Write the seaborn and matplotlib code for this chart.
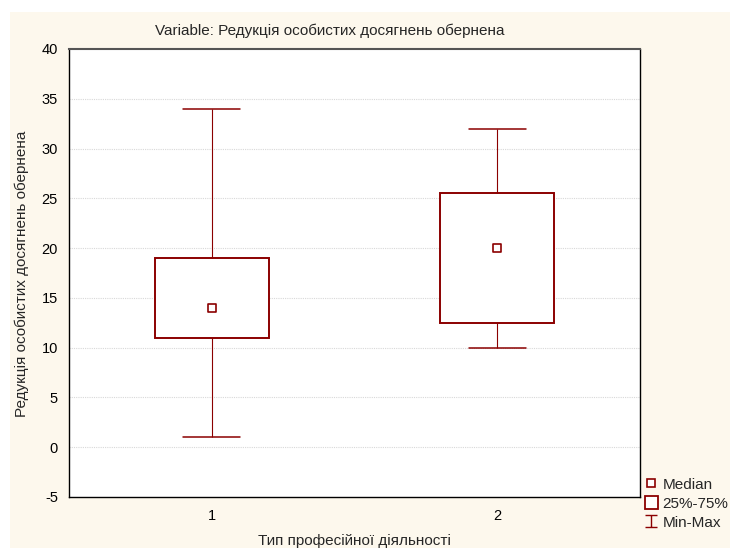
import numpy as np
import pandas as pd
import matplotlib
matplotlib.use("Agg")
import matplotlib.pyplot as plt
from matplotlib.patches import Rectangle, Patch
from matplotlib.lines import Line2D
from matplotlib.path import Path
import seaborn as sns

# Five-number summaries per activity type
groups = ["1", "2"]
mins = [1, 10]
q1s = [11, 12.5]
medians = [14, 20]
q3s = [19, 25.5]
maxs = [34, 32]
yticks = [-5, 0, 5, 10, 15, 20, 25, 30, 35, 40]

title = "Variable: Редукція особистих досягнень обернена"
ylabel = "Редукція особистих досягнень обернена"
xlabel = "Тип професійної діяльності"

RED = "#8b0000"
CREAM = "#fdf8ed"

sns.set_style("white")
plt.rcParams["font.family"] = ["Liberation Sans", "DejaVu Sans"]

# Each group's summary as values whose quartiles reproduce it exactly
rows = []
for g, a, b, c, d, e in zip(groups, mins, q1s, medians, q3s, maxs):
    for v in (a, b, c, d, e):
        rows.append({"group": g, "value": v})
df = pd.DataFrame(rows)
med_df = pd.DataFrame({"group": groups, "value": medians})

fig = plt.figure(figsize=(7.30, 5.48), dpi=100, facecolor="white")
fig.patches.append(Rectangle((10 / 730, 0), 720 / 730, 1 - 12 / 548,
                             transform=fig.transFigure, facecolor=CREAM,
                             edgecolor="none", zorder=-10))

ax = fig.add_axes([69 / 730, 1 - 497 / 548, 571 / 730, 448 / 548])
ax.set_facecolor("white")

sns.boxplot(data=df, x="group", y="value", order=groups, ax=ax,
            whis=(0, 100), width=0.40, color="white", linecolor=RED,
            linewidth=1.0, showfliers=False,
            boxprops=dict(linewidth=1.4, edgecolor=RED, facecolor="white"),
            whiskerprops=dict(linewidth=0.8, color=RED),
            capprops=dict(linewidth=1.1, color=RED),
            medianprops=dict(visible=False))

sns.stripplot(data=med_df, x="group", y="value", order=groups, ax=ax,
              jitter=False, marker="s", size=5.5, color="white",
              edgecolor=RED, linewidth=1.2, zorder=5)

ax.set_xlim(-0.5, 1.5)
ax.set_ylim(-5, 40)
ax.set_yticks(yticks)
ax.set_yticklabels([str(t) for t in yticks])
ax.set_xlabel("")
ax.set_ylabel("")
for y in yticks[1:-1]:
    ax.axhline(y, color="#d8d8d8", lw=0.8, ls=(0, (1, 1)), zorder=0)

ax.tick_params(axis="both", direction="in", length=3, width=0.8,
               labelsize=10.5, colors="black")
ax.tick_params(axis="y", pad=8)
ax.tick_params(axis="x", pad=9)
for side in ["left", "right", "bottom", "top"]:
    ax.spines[side].set_visible(True)
    ax.spines[side].set_color("black")
    ax.spines[side].set_linewidth(1.0)
ax.spines["top"].set_color("#555555")
ax.spines["top"].set_linewidth(1.5)

fig.text(330 / 730, 1 - 31 / 548, title, ha="center", va="center", fontsize=11)
fig.text(22 / 730, 1 - 274 / 548, ylabel, ha="center", va="center",
         rotation=90, fontsize=11)
fig.text(354 / 730, 1 - 541 / 548, xlabel, ha="center", va="center", fontsize=11)

# Legend: median marker, interquartile box, min-max range
ibeam = Path([(-1, 1), (1, 1), (0, 1), (0, -1), (-1, -1), (1, -1)],
             [Path.MOVETO, Path.LINETO, Path.MOVETO, Path.LINETO,
              Path.MOVETO, Path.LINETO])
handles = [
    Line2D([], [], ls="none", marker="s", ms=5.5, mfc="white", mec=RED, mew=1.2),
    Patch(facecolor="white", edgecolor=RED, linewidth=1.3),
    Line2D([], [], ls="none", marker=ibeam, ms=9, mec=RED, mew=1.0),
]
labels = ["Median", "25%-75%", "Min-Max"]
fig.legend(handles, labels, loc="upper left",
           bbox_to_anchor=(645 / 730, 1 - 477 / 548), frameon=False,
           fontsize=11, handlelength=0.85, handleheight=0.92,
           handletextpad=0.3, labelspacing=0.28, borderaxespad=0,
           borderpad=0)

fig.savefig("out.png", dpi=100, facecolor=fig.get_facecolor())
